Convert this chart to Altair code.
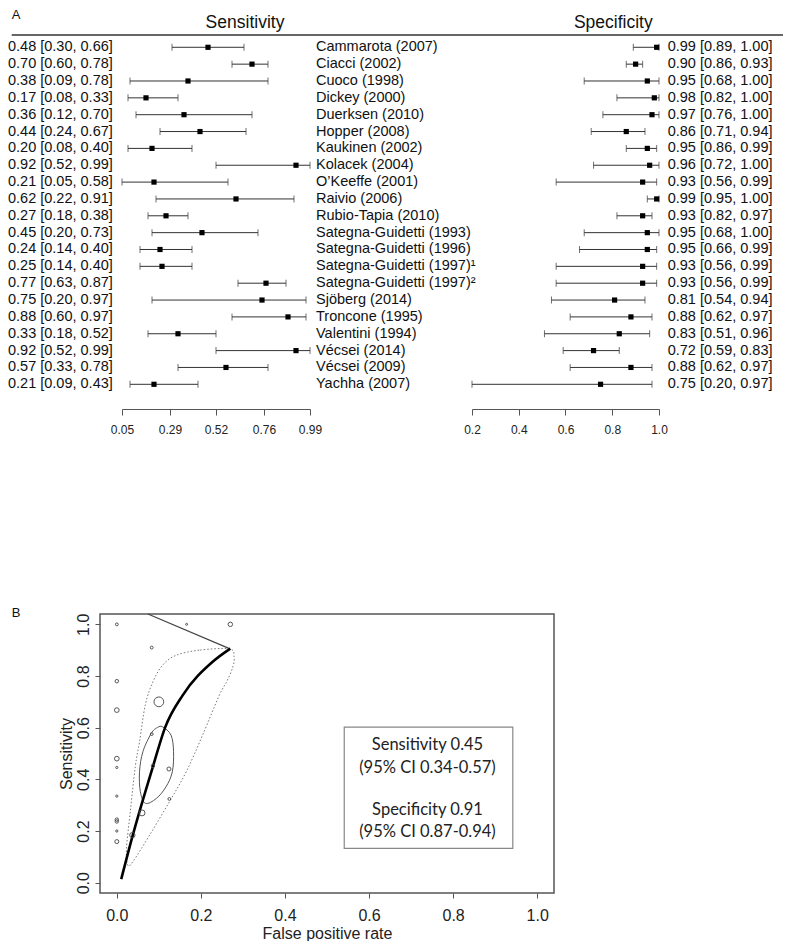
import altair as alt
import pandas as pd

FONT = "Liberation Sans, Arial, Helvetica, sans-serif"

# ---------------- Panel A data ----------------
studies = ["Cammarota (2007)", "Ciacci (2002)", "Cuoco (1998)", "Dickey (2000)",
           "Duerksen (2010)", "Hopper (2008)", "Kaukinen (2002)", "Kolacek (2004)",
           "O\u2019Keeffe (2001)", "Raivio (2006)", "Rubio-Tapia (2010)",
           "Sategna-Guidetti (1993)", "Sategna-Guidetti (1996)",
           "Sategna-Guidetti (1997)\u00b9", "Sategna-Guidetti (1997)\u00b2",
           "Sj\u00f6berg (2014)", "Troncone (1995)", "Valentini (1994)",
           "V\u00e9csei (2014)", "V\u00e9csei (2009)", "Yachha (2007)"]
sens = [0.48, 0.70, 0.38, 0.17, 0.36, 0.44, 0.20, 0.92, 0.21, 0.62, 0.27,
        0.45, 0.24, 0.25, 0.77, 0.75, 0.88, 0.33, 0.92, 0.57, 0.21]
sens_lo = [0.30, 0.60, 0.09, 0.08, 0.12, 0.24, 0.08, 0.52, 0.05, 0.22, 0.18,
           0.20, 0.14, 0.14, 0.63, 0.20, 0.60, 0.18, 0.52, 0.33, 0.09]
sens_hi = [0.66, 0.78, 0.78, 0.33, 0.70, 0.67, 0.40, 0.99, 0.58, 0.91, 0.38,
           0.73, 0.40, 0.40, 0.87, 0.97, 0.97, 0.52, 0.99, 0.78, 0.43]
spec = [0.99, 0.90, 0.95, 0.98, 0.97, 0.86, 0.95, 0.96, 0.93, 0.99, 0.93,
        0.95, 0.95, 0.93, 0.93, 0.81, 0.88, 0.83, 0.72, 0.88, 0.75]
spec_lo = [0.89, 0.86, 0.68, 0.82, 0.76, 0.71, 0.86, 0.72, 0.56, 0.95, 0.82,
           0.68, 0.66, 0.56, 0.56, 0.54, 0.62, 0.51, 0.59, 0.62, 0.20]
spec_hi = [1.00, 0.93, 1.00, 1.00, 1.00, 0.94, 0.99, 1.00, 0.99, 1.00, 0.97,
           1.00, 0.99, 0.99, 0.99, 0.94, 0.97, 0.96, 0.83, 0.97, 0.97]
sens_ticks = [0.05, 0.29, 0.52, 0.76, 0.99]
spec_ticks = [0.2, 0.4, 0.6, 0.8, 1.0]

# ---------------- Panel B data ----------------
pt_fpr = [0.000, 0.083, 0.166, 0.270, 0.000, 0.000, 0.100, 0.083, 0.000, 0.000,
          0.086, 0.124, 0.000, 0.125, 0.060, 0.000, 0.000, 0.000, 0.037, 0.000]
pt_sens = [1.000, 0.910, 1.000, 1.000, 0.780, 0.668, 0.700, 0.575, 0.480, 0.446,
           0.452, 0.440, 0.335, 0.324, 0.270, 0.244, 0.237, 0.200, 0.184, 0.159]
pt_size = [8, 8, 4, 20, 12, 22, 95, 8, 22, 5, 12, 16, 5, 8, 35, 12, 12, 5, 28, 16]

sroc_fpr = [0.0105, 0.038, 0.0865, 0.115, 0.157, 0.228, 0.270]
sroc_sens = [0.0135, 0.184, 0.4526, 0.601, 0.726, 0.855, 0.906]

ell_fpr = [0.109, 0.129, 0.135, 0.132, 0.117, 0.094, 0.068, 0.056, 0.054,
           0.062, 0.082, 0.097]
ell_sens = [0.603, 0.571, 0.507, 0.429, 0.371, 0.326, 0.307, 0.352, 0.429,
            0.507, 0.578, 0.601]

pred_fpr = [0.268, 0.196, 0.141, 0.109, 0.086, 0.068, 0.054, 0.044, 0.032,
            0.023, 0.026, 0.038, 0.078, 0.125, 0.165, 0.204, 0.244, 0.262,
            0.276, 0.279]
pred_sens = [0.905, 0.900, 0.880, 0.842, 0.778, 0.690, 0.545, 0.450, 0.275,
             0.130, 0.068, 0.081, 0.184, 0.313, 0.429, 0.571, 0.726, 0.780,
             0.835, 0.875]

edge_fpr = [0.074, 0.268]
edge_sens = [1.04, 0.906]

frame_lim = [-0.04, 1.04]
b_ticks = [0.0, 0.2, 0.4, 0.6, 0.8, 1.0]

box_fpr = [0.541, 0.942]
box_sens = [0.133, 0.602]
box_lines = ["Sensitivity 0.45", "(95% CI 0.34-0.57)",
             "Specificity 0.91", "(95% CI 0.87-0.94)"]
box_text_fpr = [0.739, 0.739, 0.739, 0.739]
box_text_sens = [0.533, 0.445, 0.281, 0.195]

# ---------------- tables ----------------
n = len(studies)
dfA = pd.DataFrame({
    "row": list(range(n)),
    "study": studies,
    "sens": sens, "sens_lo": sens_lo, "sens_hi": sens_hi,
    "spec": spec, "spec_lo": spec_lo, "spec_hi": spec_hi,
})
dfA["sens_lab"] = [f"{a:.2f} [{b:.2f}, {c:.2f}]" for a, b, c in zip(sens, sens_lo, sens_hi)]
dfA["spec_lab"] = [f"{a:.2f} [{b:.2f}, {c:.2f}]" for a, b, c in zip(spec, spec_lo, spec_hi)]

dfPts = pd.DataFrame({"fpr": pt_fpr, "sens": pt_sens, "s": pt_size})
dfSroc = pd.DataFrame({"fpr": sroc_fpr, "sens": sroc_sens, "i": range(len(sroc_fpr))})
dfEll = pd.DataFrame({"fpr": ell_fpr, "sens": ell_sens, "i": range(len(ell_fpr))})
dfPred = pd.DataFrame({"fpr": pred_fpr, "sens": pred_sens, "i": range(len(pred_fpr))})
dfEdge = pd.DataFrame({"fpr": edge_fpr, "sens": edge_sens, "i": range(2)})
dfFrame = pd.DataFrame({"x1": [frame_lim[0]], "x2": [frame_lim[1]],
                        "y1": [frame_lim[0]], "y2": [frame_lim[1]]})
dfBox = pd.DataFrame({"x1": [box_fpr[0]], "x2": [box_fpr[1]],
                      "y1": [box_sens[0]], "y2": [box_sens[1]]})
dfBoxT = pd.DataFrame({"fpr": box_text_fpr, "sens": box_text_sens, "t": box_lines})

# ---------------- Panel A cells ----------------
W1, W2, W3, W4, W5 = 114, 188, 162, 187, 125
HA = 401
row_scale = alt.Scale(domain=[-2.332, 21.466], reverse=True, nice=False, zero=False)
Yrow = alt.Y("row:Q", scale=row_scale, axis=None)

TXT = dict(font=FONT, fontSize=14.5, color="#111", baseline="middle", align="left")

baseA = alt.Chart(dfA)

c1 = alt.layer(
    baseA.mark_text(**TXT).encode(x=alt.value(0), y=Yrow, text="sens_lab:N"),
    alt.Chart(pd.DataFrame({"t": ["A"]})).mark_text(
        font=FONT, fontSize=13, color="#111", align="left", baseline="middle"
    ).encode(x=alt.value(3.7), y=alt.value(7), text="t:N"),
    alt.Chart(pd.DataFrame({"a": [0]})).mark_rule(color="#333", strokeWidth=1.5).encode(
        x=alt.value(3.7), x2=alt.value(775), y=alt.value(27)),
).properties(width=W1, height=HA)


def ci_cell(est, lo, hi, dom, ticks, fmt, width, header, hx):
    sc = alt.Scale(domain=dom, nice=False, zero=False)
    ax = alt.Axis(values=ticks, format=fmt, grid=False, title=None,
                  domainColor="#555", domainWidth=1, tickColor="#555", tickSize=6,
                  labelFont=FONT, labelFontSize=12, labelColor="#222",
                  labelPadding=9, labelFlush=False, labelOverlap=False)
    rule = baseA.mark_rule(color="#333", strokeWidth=1).encode(
        x=alt.X(f"{lo}:Q", scale=sc, axis=ax), x2=f"{hi}:Q", y=Yrow)
    tlo = baseA.mark_tick(orient="vertical", size=7, thickness=1, color="#333").encode(
        x=alt.X(f"{lo}:Q", scale=sc, axis=ax), y=Yrow)
    thi = baseA.mark_tick(orient="vertical", size=7, thickness=1, color="#333").encode(
        x=alt.X(f"{hi}:Q", scale=sc, axis=ax), y=Yrow)
    sq = baseA.mark_square(size=27, color="#000", opacity=1).encode(
        x=alt.X(f"{est}:Q", scale=sc, axis=ax), y=Yrow)
    head = alt.Chart(pd.DataFrame({"t": [header]})).mark_text(
        font=FONT, fontSize=17.5, color="#111", align="center", baseline="middle"
    ).encode(x=alt.value(hx), y=alt.value(15), text="t:N")
    return alt.layer(rule, tlo, thi, sq, head).properties(width=width, height=HA)


c2 = ci_cell("sens", "sens_lo", "sens_hi", [0.05, 0.99], sens_ticks, ".2f", W2,
             "Sensitivity", 123)
c3 = baseA.mark_text(**TXT).encode(x=alt.value(6), y=Yrow, text="study:N").properties(
    width=W3, height=HA)
c4 = ci_cell("spec", "spec_lo", "spec_hi", [0.2, 1.0], spec_ticks, ".1f", W4,
             "Specificity", 141.3)
c5 = baseA.mark_text(**TXT).encode(x=alt.value(8.7), y=Yrow, text="spec_lab:N").properties(
    width=W5, height=HA)

rowA = alt.hconcat(c1, c2, c3, c4, c5, spacing=0, bounds="flush")

# ---------------- Panel B ----------------
LEFT, WB = 92, 454          # plot area starts 92px into the row
TOP, HB = 12, 279
sBx = alt.Scale(domain=frame_lim, range=[LEFT, LEFT + WB], nice=False, zero=False)
sBy = alt.Scale(domain=frame_lim, range=[TOP + HB, TOP], nice=False, zero=False)
axBx = alt.Axis(values=b_ticks, format=".1f", grid=False, domain=False,
                tickColor="#555", tickSize=5, labelFont=FONT, labelFontSize=16,
                labelColor="#222", labelPadding=9, labelFlush=False, labelOverlap=False,
                title="False positive rate", titleFont=FONT, titleFontSize=16,
                titleFontWeight="normal", titleColor="#222", titlePadding=2)
axBy = alt.Axis(values=b_ticks, format=".1f", grid=False, domain=False, offset=-LEFT,
                tickColor="#555", tickSize=5, labelFont=FONT, labelFontSize=16,
                labelColor="#222", labelPadding=4, labelAngle=270, labelAlign="center",
                labelBaseline="bottom", labelFlush=False, labelOverlap=False,
                title="Sensitivity", titleFont=FONT, titleFontSize=16,
                titleFontWeight="normal", titleColor="#222", titlePadding=1)
XB = alt.X("fpr:Q", scale=sBx, axis=axBx)
YB = alt.Y("sens:Q", scale=sBy, axis=axBy)

frame = alt.Chart(dfFrame).mark_rect(fill=None, fillOpacity=0, stroke="#555",
                                     strokeWidth=1.5).encode(
    x=alt.X("x1:Q", scale=sBx, axis=axBx), x2="x2:Q",
    y=alt.Y("y1:Q", scale=sBy, axis=axBy), y2="y2:Q")
edge = alt.Chart(dfEdge).mark_line(color="#444", strokeWidth=1.2).encode(
    x=XB, y=YB, order="i:Q")
pred = alt.Chart(dfPred).mark_line(color="#777", strokeWidth=1, strokeDash=[1.5, 2],
                                   interpolate="cardinal-closed").encode(
    x=XB, y=YB, order="i:Q")
ell = alt.Chart(dfEll).mark_line(color="#555", strokeWidth=1,
                                 interpolate="cardinal-closed").encode(
    x=XB, y=YB, order="i:Q")
sroc = alt.Chart(dfSroc).mark_line(color="#000", strokeWidth=2.6,
                                   interpolate="monotone").encode(
    x=XB, y=YB, order="i:Q")
pts = alt.Chart(dfPts).mark_point(shape="circle", filled=False, color="#444",
                                  strokeWidth=0.9, opacity=1).encode(
    x=XB, y=YB, size=alt.Size("s:Q", scale=None, legend=None))
box = alt.Chart(dfBox).mark_rect(fill=None, fillOpacity=0, stroke="#888",
                                 strokeWidth=1.2).encode(
    x=alt.X("x1:Q", scale=sBx, axis=axBx), x2="x2:Q",
    y=alt.Y("y1:Q", scale=sBy, axis=axBy), y2="y2:Q")
boxt = alt.Chart(dfBoxT).mark_text(font="Lato", fontSize=16.5, color="#222",
                                   align="center", baseline="middle").encode(
    x=XB, y=YB, text="t:N")
blab = alt.Chart(pd.DataFrame({"t": ["B"]})).mark_text(
    font=FONT, fontSize=13, color="#111", align="left", baseline="middle"
).encode(x=alt.value(3.7), y=alt.value(TOP - 1.5), text="t:N")

rowB = alt.layer(frame, edge, pred, ell, sroc, pts, box, boxt, blab).properties(
    width=LEFT + WB, height=TOP + HB)

chart = alt.vconcat(rowA, rowB, spacing=167).properties(padding=0).configure_view(stroke=None)

chart.save("out.html", embed_options={"renderer": "svg", "actions": False})
